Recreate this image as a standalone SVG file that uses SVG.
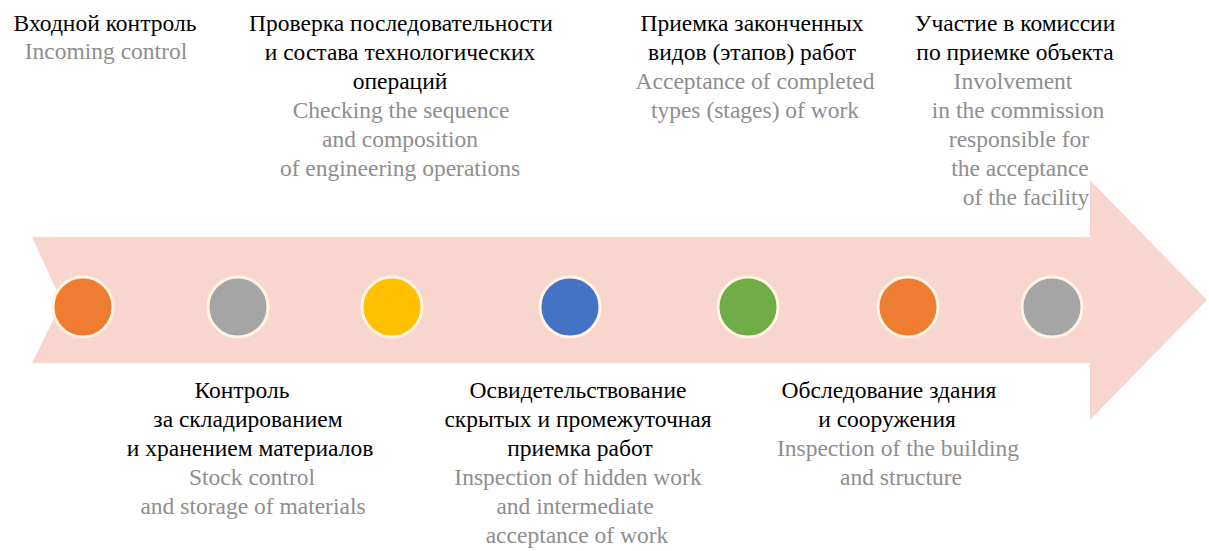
<svg xmlns="http://www.w3.org/2000/svg" width="1209" height="551" viewBox="0 0 1209 551">
<style>
text{font-family:'Liberation Serif','Times New Roman',serif;font-size:23.5px;text-anchor:middle}
.ru{fill:#000}
.en{fill:#8e8e8e}
.dot{stroke:#fff3e2;stroke-width:3}
</style>
<rect x="0" y="0" width="1209" height="551" fill="#ffffff"/>
<g id="arrow">
<path d="M32,237 L1090,237 L1090,180 L1207,300 L1090,420 L1090,363 L32,363 L62,302 Z" fill="#f8d6ce"/>
</g>
<g id="connectors"></g>
<g id="dot1"><circle class="dot" cx="83" cy="307" r="30" fill="#ee7d31"/></g>
<g id="dot2"><circle class="dot" cx="238" cy="307" r="30" fill="#a5a5a5"/></g>
<g id="dot3"><circle class="dot" cx="392" cy="307" r="30" fill="#ffc000"/></g>
<g id="dot4"><circle class="dot" cx="570" cy="307" r="30" fill="#4472c4"/></g>
<g id="dot5"><circle class="dot" cx="748" cy="307" r="30" fill="#70ad47"/></g>
<g id="dot6"><circle class="dot" cx="908" cy="307" r="30" fill="#ee7d31"/></g>
<g id="dot7"><circle class="dot" cx="1052" cy="307" r="30" fill="#a5a5a5"/></g>
<g id="label1">
<text class="ru" x="105" y="31">Входной контроль</text>
<text class="en" x="106" y="59">Incoming control</text>
</g>
<g id="label2">
<text class="ru" x="401" y="31">Проверка последовательности</text>
<text class="ru" x="400" y="60">и состава технологических</text>
<text class="ru" x="400" y="89">операций</text>
<text class="en" x="401" y="118">Checking the sequence</text>
<text class="en" x="400" y="147">and composition</text>
<text class="en" x="400" y="176">of engineering operations</text>
</g>
<g id="label3">
<text class="ru" x="752" y="31">Приемка законченных</text>
<text class="ru" x="752" y="60">видов (этапов) работ</text>
<text class="en" x="755" y="89">Acceptance of completed</text>
<text class="en" x="755" y="118">types (stages) of work</text>
</g>
<g id="label4">
<text class="ru" x="1015" y="31">Участие в комиссии</text>
<text class="ru" x="1015" y="60">по приемке объекта</text>
<text class="en" x="1013" y="89">Involvement</text>
<text class="en" x="1018" y="118">in the commission</text>
<text class="en" x="1019" y="147">responsible for</text>
<text class="en" x="1020" y="176">the acceptance</text>
<text class="en" x="1026" y="205">of the facility</text>
</g>
<g id="label5">
<text class="ru" x="242" y="398">Контроль</text>
<text class="ru" x="248" y="427">за складированием</text>
<text class="ru" x="250" y="456">и хранением материалов</text>
<text class="en" x="252" y="485">Stock control</text>
<text class="en" x="253" y="514">and storage of materials</text>
</g>
<g id="label6">
<text class="ru" x="578" y="398">Освидетельствование</text>
<text class="ru" x="578" y="427">скрытых и промежуточная</text>
<text class="ru" x="580" y="456">приемка работ</text>
<text class="en" x="578" y="485">Inspection of hidden work</text>
<text class="en" x="575" y="514">and intermediate</text>
<text class="en" x="577" y="543">acceptance of work</text>
</g>
<g id="label7">
<text class="ru" x="889" y="398">Обследование здания</text>
<text class="ru" x="887" y="427">и сооружения</text>
<text class="en" x="898" y="456">Inspection of the building</text>
<text class="en" x="901" y="485">and structure</text>
</g>
</svg>
